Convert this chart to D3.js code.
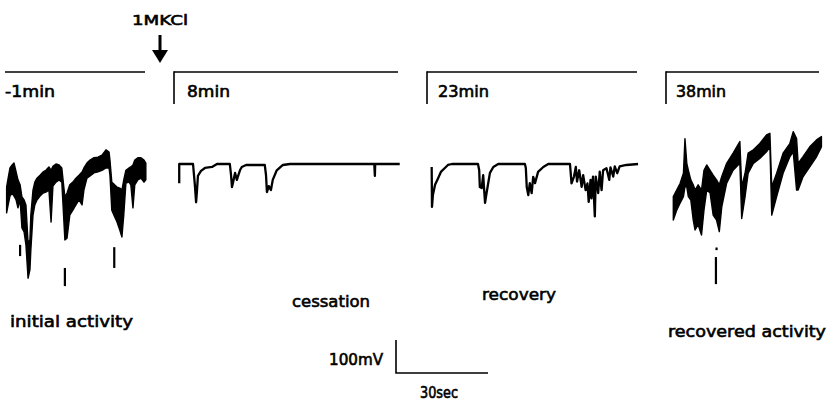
<!DOCTYPE html>
<html>
<head>
<meta charset="utf-8">
<script src="https://cdn.jsdelivr.net/npm/d3@7"></script>
<style>
body { margin: 0; background: #fff; }
text { font-family: "DejaVu Sans", sans-serif; fill: #000; stroke: #000; stroke-width: 0.6px; }
</style>
</head>
<body>
<script>
var w = 832;
var h = 403;

// time in sec, potential in mV (relative to the resting line of 8 and 23 min)
var panelLabels = ["-1min", "8min", "23min", "38min"];
var stateLabels = ["initial activity", "cessation", "recovery", "recovered activity"];
var drugLabel = "1MKCl";
var scaleBar = [30, 100];

// [t, high, low] envelopes of the noisy traces
var initialTrace = [
    [0.2, -70, -148], [0.7, -43, -124], [1.3, -12, -97], [2.0, -3, -88], [2.6, 3, -97],
    [3.3, -24, -109], [3.9, -48, -133], [4.6, -63, -109], [5.2, -100, -194], [5.9, -109, -206],
    [6.5, -124, -245], [7.2, -239, -346], [7.8, -230, -321], [8.1, -155, -261], [8.8, -79, -155],
    [9.4, -55, -124], [10.1, -43, -109], [11.1, -34, -97], [12.1, -24, -88], [13.0, -19, -85],
    [14.0, -9, -79], [14.7, -19, -176], [15.3, -7, -67], [16.3, 0, -55], [17.3, -3, -48],
    [18.2, -12, -55], [19.2, -100, -230], [19.9, -88, -225], [20.8, -63, -155], [21.8, -55, -140],
    [22.8, -43, -124], [23.8, -34, -109], [24.8, -24, -124], [25.4, -12, -79], [26.4, 3, -43],
    [27.4, 12, -36], [28.7, 19, -27], [30.0, 21, -24], [31.3, 27, -19], [32.6, 43, -12],
    [33.6, 36, -12], [33.9, 12, -34], [34.5, -55, -140], [35.2, -61, -155], [36.2, -70, -176],
    [37.1, -73, -200], [37.8, -79, -221], [38.4, -48, -155], [39.1, -19, -58], [40.1, -12, -55],
    [40.7, -9, -63], [41.4, -3, -133], [42.0, 12, -63], [43.0, 19, -48], [44.0, 19, -43],
    [45.0, 12, -55], [45.6, 3, -48]
];
var initialSpikes = [[4.6, -245, -276], [19.2, -315, -367], [35.3, -252, -312]];

var cessationTrace = [
    [0.4, -58], [0.4, 0], [4.9, 0], [5.5, -63], [5.9, -116], [6.2, -79], [6.5, -36],
    [7.5, -21], [8.8, -12], [11.1, -9], [12.7, 0], [16.9, 0], [17.3, -34], [17.6, -70],
    [17.9, -58], [18.6, -27], [19.2, -48], [19.5, -39], [20.2, -19], [20.8, -9], [22.2, -3],
    [28.3, -3], [28.7, -34], [29.0, -85], [29.6, -67], [30.3, -79], [30.9, -48], [32.2, -19],
    [34.2, -3], [36.5, 0], [64.0, 0], [64.2, -36], [64.3, 0], [72.3, 0]
];

var recoveryTrace = [
    [1.2, -9], [1.3, -130], [1.6, -94], [2.3, -63], [3.3, -43], [4.2, -24], [5.5, -12],
    [6.5, -3], [7.8, 0], [16.3, 0], [16.7, -19], [16.9, -70], [17.5, -73], [18.0, -34],
    [18.6, -118], [19.1, -88], [20.2, -27], [21.3, -9], [22.9, 0], [31.6, 0], [31.9, -12],
    [32.2, -70], [32.7, -94], [33.2, -58], [33.8, -88], [34.3, -39], [34.9, -58], [35.9, -24],
    [37.6, -9], [39.2, 0], [46.3, 0], [46.5, -23], [46.8, -59], [47.6, -38], [48.2, -9],
    [48.6, -53], [49.3, -19], [50.1, -69], [50.6, -34], [51.4, -79], [52.0, -59], [52.4, -115],
    [53.0, -48], [53.3, -104], [53.8, -38], [54.4, -159], [54.7, -38], [55.5, -88], [56.0, -23],
    [56.6, -79], [57.1, -19], [58.2, -13], [59.1, -48], [59.5, -10], [60.4, -38], [60.9, -7],
    [61.7, -28], [62.5, -7], [64.7, -3], [68.5, 0]
];

var recoveredTrace = [
    [0.1, -99, -170], [1.2, -79, -140], [2.3, -59, -119], [3.4, -28, -99], [3.9, 77, -69],
    [4.5, 2, -69], [5.0, -19, -99], [5.8, -48, -109], [6.6, -63, -170], [7.2, -79, -200],
    [8.2, -63, -184], [9.3, -79, -215], [10.1, -19, -140], [11.0, -3, -79], [12.1, -19, -88],
    [13.1, -34, -155], [14.2, -48, -170], [15.1, -63, -205], [15.9, -38, -130], [17.5, 2, -58],
    [19.6, 33, -19], [21.8, 68, 2], [22.4, -69, -165], [23.5, -28, -99], [24.5, 33, -28],
    [26.2, 43, 2], [28.3, 62, 17], [30.5, 88, 37], [31.6, 93, 52], [32.2, -69, -155],
    [33.8, -28, -99], [35.9, 33, -28], [38.1, 62, 22], [39.2, 98, 37], [40.3, 77, -79],
    [40.8, 2, -79], [42.4, 22, -39], [44.6, 52, -9], [46.8, 73, 22], [48.4, 83, 52]
];
var recoveredSpikes = [[14.0, -282, -361], [14.2, -253, -258]];

var xScale = d3.scaleLinear().domain([0, 30]).range([0, 92]);
var yScale = d3.scaleLinear().domain([0, -100]).range([164, 197]);

var svg = d3.select("body")
    .append("svg")
    .attr("width", w)
    .attr("height", h);

var band = d3.area()
    .x(function (d) { return xScale(d[0]); })
    .y0(function (d) { return yScale(d[2]); })
    .y1(function (d) { return yScale(d[1]); });

var trace = d3.line()
    .x(function (d) { return xScale(d[0]); })
    .y(function (d) { return yScale(d[1]); });

function drawBand(x0, data, spikes) {
    var g = svg.append("g").attr("transform", "translate(" + x0 + ",0)");
    g.append("path")
        .datum(data)
        .attr("d", band)
        .attr("fill", "#000")
        .attr("stroke", "#000")
        .attr("stroke-width", 1.4)
        .attr("stroke-linejoin", "round");
    g.selectAll("line")
        .data(spikes)
        .enter()
        .append("line")
        .attr("x1", function (d) { return xScale(d[0]); })
        .attr("x2", function (d) { return xScale(d[0]); })
        .attr("y1", function (d) { return yScale(d[1]); })
        .attr("y2", function (d) { return yScale(d[2]) + 1; })
        .attr("stroke", "#000")
        .attr("stroke-width", 2.2);
}

function drawLine(x0, data) {
    svg.append("g")
        .attr("transform", "translate(" + x0 + ",0)")
        .append("path")
        .datum(data)
        .attr("d", trace)
        .attr("fill", "none")
        .attr("stroke", "#000")
        .attr("stroke-width", 2.3)
        .attr("stroke-linejoin", "round");
}

drawBand(6, initialTrace, initialSpikes);
drawLine(178, cessationTrace);
drawLine(428, recoveryTrace);
drawBand(673, recoveredTrace, recoveredSpikes);

// time-stamp brackets above each trace
var headers = [
    { x1: 5, x2: 145, tick: false, tx: 5, tw: 50 },
    { x1: 174, x2: 398, tick: true, tx: 187, tw: 43 },
    { x1: 427, x2: 637, tick: true, tx: 438, tw: 51 },
    { x1: 666, x2: 819, tick: true, tx: 676, tw: 50 }
];

headers.forEach(function (p, i) {
    svg.append("line")
        .attr("x1", p.x1).attr("x2", p.x2)
        .attr("y1", 72).attr("y2", 72)
        .attr("stroke", "#000").attr("stroke-width", 1.6);
    if (p.tick) {
        svg.append("line")
            .attr("x1", p.x1).attr("x2", p.x1)
            .attr("y1", 71.2).attr("y2", 104)
            .attr("stroke", "#000").attr("stroke-width", 1.6);
    }
    svg.append("text")
        .attr("x", p.tx)
        .attr("y", 97)
        .attr("font-size", 15)
        .attr("textLength", p.tw)
        .attr("lengthAdjust", "spacingAndGlyphs")
        .text(panelLabels[i]);
});

// KCl arrow
svg.append("text")
    .attr("x", 132)
    .attr("y", 25)
    .attr("font-size", 14)
    .attr("textLength", 56)
    .attr("lengthAdjust", "spacingAndGlyphs")
    .text(drugLabel);
svg.append("line")
    .attr("x1", 160).attr("x2", 160)
    .attr("y1", 35).attr("y2", 52)
    .attr("stroke", "#000").attr("stroke-width", 3);
svg.append("path")
    .attr("d", "M152,50 L168,50 L160,63 Z")
    .attr("fill", "#000");

// state labels
var statePos = [[10, 327, 123], [292, 307, 78], [482, 300, 74], [668, 337, 158]];
svg.selectAll("text.state")
    .data(stateLabels)
    .enter()
    .append("text")
    .attr("class", "state")
    .attr("x", function (d, i) { return statePos[i][0]; })
    .attr("y", function (d, i) { return statePos[i][1]; })
    .attr("font-size", 16)
    .attr("textLength", function (d, i) { return statePos[i][2]; })
    .attr("lengthAdjust", "spacingAndGlyphs")
    .text(function (d) { return d; });

// scale bar
var bx = 396, by = 373;
svg.append("path")
    .attr("d", "M" + bx + "," + (by - (yScale(-scaleBar[1]) - yScale(0))) +
        " L" + bx + "," + by + " L" + (bx + xScale(scaleBar[0]) - xScale(0)) + "," + by)
    .attr("fill", "none")
    .attr("stroke", "#000")
    .attr("stroke-width", 1.6);
svg.append("text")
    .attr("x", 329)
    .attr("y", 365)
    .attr("font-size", 15)
    .attr("textLength", 54)
    .attr("lengthAdjust", "spacingAndGlyphs")
    .text(scaleBar[1] + "mV");
svg.append("text")
    .attr("x", 420)
    .attr("y", 398)
    .attr("font-size", 15)
    .attr("textLength", 38)
    .attr("lengthAdjust", "spacingAndGlyphs")
    .text(scaleBar[0] + "sec");
</script>
</body>
</html>
